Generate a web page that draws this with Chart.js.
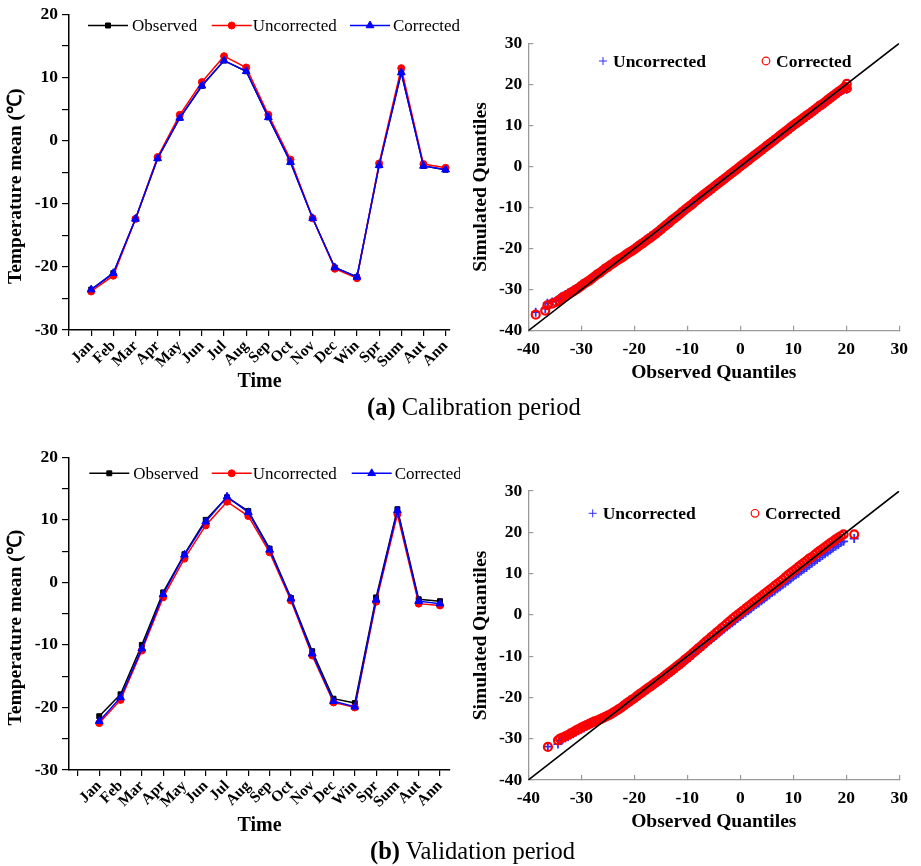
<!DOCTYPE html>
<html>
<head>
<meta charset="utf-8">
<script src="https://cdn.jsdelivr.net/npm/chart.js@4.4.1/dist/chart.umd.min.js"></script>
<style>
  html, body { margin: 0; padding: 0; background: #fff; }
  #page { position: relative; width: 921px; height: 866px; overflow: hidden; background: #fff; }
  #page canvas { position: absolute; }
  .caption { position: absolute; font-family: 'Liberation Serif', 'Times New Roman', serif; font-size: 24.5px; line-height: 28px; color: #000; white-space: nowrap; }
</style>
</head>
<body>
<div id="page">
  <canvas id="tempCal" width="460" height="400" style="left:0;top:0;width:460px;height:400px"></canvas>
  <canvas id="qqCal" width="461" height="400" style="left:460px;top:0;width:461px;height:400px"></canvas>
  <canvas id="tempVal" width="460" height="400" style="left:0;top:440px;width:460px;height:400px"></canvas>
  <canvas id="qqVal" width="461" height="400" style="left:460px;top:440px;width:461px;height:400px"></canvas>
  <div class="caption" style="left:367px;top:393px"><b>(a)</b> Calibration period</div>
  <div class="caption" style="left:370px;top:837px"><b>(b)</b> Validation period</div>
</div>
<script>
// Monthly, seasonal and annual labels
const periods = ['Jan','Feb','Mar','Apr','May','Jun','Jul','Aug','Sep','Oct','Nov','Dec','Win','Spr','Sum','Aut','Ann'];

// Mean temperature (°C), calibration period
const calObserved    = [-23.6,-21.0,-12.4,-2.8,3.6,8.7,12.7,11.0,3.7,-3.4,-12.3,-20.1,-21.6,-3.9,10.8,-4.0,-4.6];
const calUncorrected = [-23.9,-21.4,-12.4,-2.6,4.1,9.3,13.4,11.6,4.1,-3.0,-12.3,-20.3,-21.8,-3.6,11.5,-3.7,-4.3];
const calCorrected   = [-23.6,-21.0,-12.4,-2.8,3.6,8.7,12.7,11.0,3.7,-3.4,-12.3,-20.1,-21.6,-3.9,10.8,-4.0,-4.6];

// Mean temperature (°C), validation period
const valObserved    = [-21.4,-17.9,-10.0,-1.6,4.5,10.0,13.6,11.4,5.4,-2.5,-11.0,-18.6,-19.3,-2.4,11.7,-2.7,-3.0];
const valUncorrected = [-22.5,-18.8,-10.9,-2.4,3.8,9.1,12.9,10.6,4.8,-2.9,-11.7,-19.2,-20.0,-3.1,10.9,-3.4,-3.7];
const valCorrected   = [-22.2,-18.4,-10.6,-1.9,4.4,9.7,13.7,11.2,5.2,-2.6,-11.4,-19.0,-19.9,-2.8,11.5,-3.0,-3.4];

// Q-Q plot, calibration period: observed quantiles and simulated quantiles
const calObsQ = [
  -38.6,-36.8,-36.4,-35.5,-34.7,-34.2,-33.8,
  -33.5,-33,-32.5,-32,-31.5,-31,-30.5,-30,-29.5,-29,
  -28.5,-28,-27.5,-27,-26.5,-26,-25.5,-25,-24.5,-24,
  -23.5,-23,-22.5,-22,-21.5,-21,-20.5,-20,-19.5,-19,
  -18.5,-18,-17.5,-17,-16.5,-16,-15.5,-15,-14.5,-14,
  -13.5,-13,-12.5,-12,-11.5,-11,-10.5,-10,-9.5,-9,
  -8.5,-8,-7.5,-7,-6.5,-6,-5.5,-5,-4.5,-4,
  -3.5,-3,-2.5,-2,-1.5,-1,-0.5,0,0.5,1,
  1.5,2,2.5,3,3.5,4,4.5,5,5.5,6,
  6.5,7,7.5,8,8.5,9,9.5,10,10.5,11,
  11.5,12,12.5,13,13.5,14,14.5,15,15.5,16,
  16.5,17,17.5,18,18.5,19,19.5,
  19.8,20.1,20.1
];
const calUncorrQ = [
  -35.5,-34.6,-33.3,-33.0,-32.6,-32.2,-31.8,
  -31.6,-31.2,-30.8,-30.5,-30.1,-29.7,-29.3,-28.9,-28.5,-28.0,
  -27.6,-27.1,-26.7,-26.2,-25.8,-25.3,-24.9,-24.4,-24.0,-23.5,
  -23.1,-22.6,-22.2,-21.7,-21.3,-20.8,-20.4,-19.9,-19.4,-18.9,
  -18.5,-18.0,-17.5,-17.0,-16.6,-16.1,-15.6,-15.1,-14.6,-14.1,
  -13.6,-13.1,-12.6,-12.1,-11.6,-11.1,-10.6,-10.1,-9.6,-9.1,
  -8.6,-8.1,-7.6,-7.1,-6.6,-6.1,-5.5,-5.0,-4.5,-4.0,
  -3.5,-3.0,-2.5,-2.0,-1.5,-1.0,-0.5,0.0,0.5,1.0,
  1.5,2.0,2.5,3.0,3.4,3.9,4.4,4.9,5.4,5.9,
  6.3,6.8,7.3,7.8,8.3,8.8,9.2,9.7,10.2,10.6,
  11.1,11.6,12.0,12.5,13.0,13.5,14.0,14.5,14.9,15.4,
  15.9,16.4,16.9,17.4,17.9,18.3,18.7,
  19.0,18.8,19.0
];
const calCorrQ = [
  -36.1,-35.1,-33.8,-33.4,-33.0,-32.6,-32.2,
  -31.9,-31.6,-31.2,-30.8,-30.4,-30.0,-29.6,-29.1,-28.6,-28.2,
  -27.8,-27.3,-26.8,-26.3,-25.9,-25.4,-24.9,-24.5,-24.0,-23.6,
  -23.1,-22.7,-22.3,-21.9,-21.4,-21.0,-20.6,-20.2,-19.7,-19.2,
  -18.8,-18.3,-17.8,-17.4,-16.9,-16.4,-15.9,-15.4,-14.8,-14.3,
  -13.8,-13.2,-12.7,-12.2,-11.7,-11.1,-10.6,-10.1,-9.6,-9.1,
  -8.5,-8.0,-7.5,-7.0,-6.5,-6.0,-5.5,-5.0,-4.5,-4.0,
  -3.5,-3.0,-2.5,-2.0,-1.5,-1.0,-0.5,0.0,0.5,1.0,
  1.5,2.0,2.5,3.0,3.5,4.0,4.5,5.0,5.5,6.0,
  6.5,7.0,7.5,8.0,8.5,9.0,9.5,10.0,10.5,10.9,
  11.4,11.9,12.4,12.8,13.3,13.8,14.3,14.8,15.2,15.7,
  16.2,16.7,17.2,17.7,18.2,18.6,19.1,
  19.4,19.0,20.1
];

// Q-Q plot, validation period
const valObsQ = [
  -36.3,-34.4,
  -34,-33.5,-33,-32.5,-32,-31.5,-31,-30.5,-30,-29.5,
  -29,-28.5,-28,-27.5,-27,-26.5,-26,-25.5,-25,-24.5,
  -24,-23.5,-23,-22.5,-22,-21.5,-21,-20.5,-20,-19.5,
  -19,-18.5,-18,-17.5,-17,-16.5,-16,-15.5,-15,-14.5,
  -14,-13.5,-13,-12.5,-12,-11.5,-11,-10.5,-10,-9.5,
  -9,-8.5,-8,-7.5,-7,-6.5,-6,-5.5,-5,-4.5,
  -4,-3.5,-3,-2.5,-2,-1.5,-1,-0.5,0,0.5,
  1,1.5,2,2.5,3,3.5,4,4.5,5,5.5,
  6,6.5,7,7.5,8,8.5,9,9.5,10,10.5,
  11,11.5,12,12.5,13,13.5,14,14.5,15,15.5,
  16,16.5,17,17.5,18,18.5,19,19.5,
  21.5
];
const valUncorrQ = [
  -31.9,-31.3,
  -30.4,-30.1,-29.8,-29.5,-29.1,-28.8,-28.4,-28.1,-27.7,-27.4,
  -27.0,-26.7,-26.4,-26.1,-25.8,-25.5,-25.2,-24.9,-24.5,-24.2,
  -23.9,-23.5,-23.1,-22.7,-22.2,-21.8,-21.3,-20.9,-20.4,-19.9,
  -19.5,-19.0,-18.5,-18.1,-17.6,-17.2,-16.7,-16.3,-15.8,-15.3,
  -14.8,-14.3,-13.9,-13.4,-12.9,-12.4,-11.9,-11.3,-10.8,-10.3,
  -9.7,-9.1,-8.6,-8.1,-7.6,-7.0,-6.5,-6.0,-5.5,-5.0,
  -4.4,-3.9,-3.4,-2.9,-2.4,-1.9,-1.4,-0.9,-0.4,0.1,
  0.5,1.0,1.5,2.0,2.5,2.9,3.4,3.9,4.4,4.9,
  5.4,5.8,6.3,6.8,7.3,7.7,8.2,8.7,9.2,9.7,
  10.1,10.6,11.1,11.5,12.0,12.5,13.0,13.4,13.9,14.4,
  14.8,15.2,15.7,16.2,16.6,17.0,17.5,17.8,
  18.5
];
const valCorrQ = [
  -32.0,-30.4,
  -30.0,-29.7,-29.4,-29.1,-28.7,-28.4,-28.0,-27.7,-27.3,-27.0,
  -26.7,-26.4,-26.1,-25.8,-25.6,-25.3,-25.0,-24.7,-24.4,-24.1,
  -23.7,-23.3,-22.9,-22.5,-22.0,-21.5,-21.1,-20.6,-20.2,-19.7,
  -19.2,-18.8,-18.3,-17.8,-17.4,-16.9,-16.4,-16.0,-15.5,-15.0,
  -14.5,-14.0,-13.5,-13.0,-12.5,-12.0,-11.5,-10.9,-10.4,-9.9,
  -9.3,-8.8,-8.2,-7.7,-7.1,-6.5,-6.0,-5.4,-4.9,-4.3,
  -3.8,-3.2,-2.7,-2.1,-1.6,-1.0,-0.5,0.0,0.5,1.0,
  1.5,2.0,2.5,3.0,3.5,4.0,4.5,5.0,5.5,6.0,
  6.5,7.0,7.5,8.0,8.5,9.1,9.6,10.1,10.6,11.1,
  11.6,12.1,12.6,13.1,13.6,14.0,14.5,15.0,15.5,15.9,
  16.4,16.9,17.4,17.8,18.3,18.7,19.1,19.5,
  19.5
];

// End points of the 1:1 reference line
const refLine = [-40, 30];

const SERIF = "'Liberation Serif', 'Times New Roman', serif";
Chart.defaults.font.family = SERIF;
Chart.defaults.color = '#000';

// Rotated y-axis title placed along the plot's left side
const sideTitle = {
  id: 'sideTitle',
  afterDraw(chart, args, opts) {
    if (!opts.text) return;
    const { ctx, chartArea } = chart;
    ctx.save();
    ctx.translate(opts.x, (chartArea.top + chartArea.bottom) / 2 + (opts.dy || 0));
    ctx.rotate(-Math.PI / 2);
    ctx.font = opts.font;
    ctx.fillStyle = '#000';
    ctx.textAlign = 'center';
    ctx.textBaseline = 'middle';
    ctx.fillText(opts.text, 0, 0);
    ctx.restore();
  }
};

// Key drawn inside the plot: optional line sample, marker and label per dataset
const insideKey = {
  id: 'insideKey',
  afterDatasetsDraw(chart, args, opts) {
    if (!opts.items) return;
    const { ctx, chartArea } = chart;
    ctx.save();
    opts.items.forEach(item => {
      const ds = chart.data.datasets[item.ds];
      const x0 = chartArea.left + item.x;
      const y0 = chartArea.top + opts.y;
      const len = item.line || 0;
      if (len > 0) {
        ctx.strokeStyle = ds.borderColor;
        ctx.lineWidth = 1.5;
        ctx.beginPath();
        ctx.moveTo(x0, y0);
        ctx.lineTo(x0 + len, y0);
        ctx.stroke();
      }
      const mx = len > 0 ? x0 + len / 2 : x0;
      const bw = item.borderWidth || ds.pointBorderWidth || 1;
      ctx.fillStyle = ds.backgroundColor;
      ctx.strokeStyle = ds.borderColor;
      ctx.lineWidth = bw;
      Chart.helpers.drawPoint(ctx, {
        pointStyle: ds.pointStyle,
        radius: item.radius || ds.pointRadius,
        borderWidth: bw,
        rotation: 0
      }, mx, y0);
      ctx.fillStyle = '#000';
      ctx.font = opts.font;
      ctx.textAlign = 'left';
      ctx.textBaseline = 'middle';
      ctx.fillText(ds.label, chartArea.left + item.textX, y0 + 1);
    });
    ctx.restore();
  }
};

function tempChart(id, obs, unc, cor, xMin, xMax, areaTop, titlePad, keyY, keyX) {
  const pts = vals => vals.map((y, i) => ({ x: i, y }));
  return new Chart(document.getElementById(id), {
    type: 'line',
    data: {
      datasets: [
        { label: 'Observed', data: pts(obs), borderColor: '#000000', backgroundColor: '#000000',
          pointStyle: 'rect', pointRadius: 3.5, pointBorderWidth: 1, order: 2 },
        { label: 'Uncorrected', data: pts(unc), borderColor: '#ff0000', backgroundColor: '#ff0000',
          pointStyle: 'circle', pointRadius: 3.5, pointBorderWidth: 1, order: 1 },
        { label: 'Corrected', data: pts(cor), borderColor: '#0000ff', backgroundColor: '#0000ff',
          pointStyle: 'triangle', pointRadius: 4.5, pointBorderWidth: 1, order: 0 }
      ]
    },
    options: {
      responsive: false,
      animation: false,
      devicePixelRatio: 1,
      layout: { padding: { top: areaTop, right: 10, left: 0, bottom: 0 } },
      elements: { line: { borderWidth: 1.5, tension: 0 } },
      scales: {
        x: {
          type: 'linear', min: xMin, max: xMax,
          afterFit: s => { s.height = 70; },
          ticks: {
            stepSize: 1, autoSkip: false, includeBounds: false,
            minRotation: 45, maxRotation: 45, padding: 1,
            font: { size: 15.5, weight: 'bold' },
            callback: v => periods[v] ?? ''
          },
          grid: { drawOnChartArea: false, color: '#000', tickLength: 6, lineWidth: 1.2 },
          border: { color: '#000', width: 1.5 },
          title: { display: true, text: 'Time', font: { size: 20, weight: 'bold' },
                   padding: { top: 0, bottom: titlePad } }
        },
        y: {
          min: -30, max: 20,
          afterFit: s => { s.width = 69; },
          ticks: { stepSize: 5, padding: 4, font: { size: 17.5, weight: 'bold' },
                   callback: v => (v % 10 === 0 ? String(v) : '') },
          grid: { drawOnChartArea: false, color: '#000', tickLength: 7, lineWidth: 1.2 },
          border: { color: '#000', width: 1.5 }
        }
      },
      plugins: {
        legend: { display: false },
        tooltip: { enabled: false },
        sideTitle: { text: 'Temperature mean (\u2103)', x: 16, dy: 14, font: 'bold 19.5px ' + SERIF },
        insideKey: {
          y: keyY, font: '17px ' + SERIF,
          items: [
            { ds: 0, x: keyX[0], line: 40, textX: keyX[0] + 44 },
            { ds: 1, x: keyX[1], line: 40, textX: keyX[1] + 41 },
            { ds: 2, x: keyX[2], line: 40, textX: keyX[2] + 43 }
          ]
        }
      }
    },
    plugins: [sideTitle, insideKey]
  });
}

function qqChart(id, obsQ, uncQ, corQ, areaTop, areaBottom, titlePad, keyY, keyX) {
  const pair = ys => obsQ.map((x, i) => ({ x, y: ys[i] }));
  const axisGrey = '#9a9a9a';
  return new Chart(document.getElementById(id), {
    type: 'scatter',
    data: {
      datasets: [
        { label: '1:1', data: refLine.map(v => ({ x: v, y: v })), showLine: true,
          borderColor: '#000', borderWidth: 1.6, pointRadius: 0, order: 0 },
        { label: 'Corrected', data: pair(corQ), pointStyle: 'circle', pointRadius: 4,
          borderColor: '#ff0000', backgroundColor: 'rgba(255,255,255,0)', pointBorderWidth: 2.2, order: 1 },
        { label: 'Uncorrected', data: pair(uncQ), pointStyle: 'cross', pointRadius: 4.5,
          borderColor: '#2f2fff', backgroundColor: '#2f2fff', pointBorderWidth: 1.8, order: 2 }
      ]
    },
    options: {
      responsive: false,
      animation: false,
      devicePixelRatio: 1,
      layout: { padding: { top: areaTop, right: 16, left: 0, bottom: 0 } },
      scales: {
        x: {
          type: 'linear', min: -40, max: 30,
          afterFit: s => { s.height = 400 - areaBottom; },
          ticks: { stepSize: 10, padding: 13, maxRotation: 0, font: { size: 17.5, weight: 'bold' } },
          grid: { drawOnChartArea: false, color: axisGrey, tickLength: -5, lineWidth: 1.2 },
          border: { color: axisGrey, width: 1.3 },
          title: { display: true, text: 'Observed Quantiles', font: { size: 19.5, weight: 'bold' },
                   padding: { top: 0, bottom: titlePad } }
        },
        y: {
          type: 'linear', min: -40, max: 30,
          afterFit: s => { s.width = 68.3; },
          ticks: { stepSize: 10, padding: 11, font: { size: 17.5, weight: 'bold' } },
          grid: { drawOnChartArea: false, color: axisGrey, tickLength: -5, lineWidth: 1.2 },
          border: { color: axisGrey, width: 1.3 },
          title: { display: true, text: 'Simulated Quantiles', font: { size: 19.5, weight: 'bold' },
                   padding: { top: 9, bottom: 0 } }
        }
      },
      plugins: {
        legend: { display: false },
        tooltip: { enabled: false },
        insideKey: {
          y: keyY, font: 'bold 17.5px ' + SERIF,
          items: [
            { ds: 2, x: keyX[0], line: 0, textX: keyX[0] + 10, radius: 4, borderWidth: 1 },
            { ds: 1, x: keyX[1], line: 0, textX: keyX[1] + 10, radius: 3.8, borderWidth: 1.2 }
          ]
        }
      }
    },
    plugins: [insideKey]
  });
}

tempChart('tempCal', calObserved, calUncorrected, calCorrected, -1, 16.2, 13, 6, 11, [19, 142.7, 281]);
tempChart('tempVal', valObserved, valUncorrected, valCorrected, -1.42, 16.47, 17.3, 2, 16, [20.3, 142.7, 282.7]);
qqChart('qqCal', calObsQ, calUncorrQ, calCorrQ, 43.3, 330.7, 15.3, 17.7, [74.7, 237.7]);
qqChart('qqVal', valObsQ, valUncorrQ, valCorrQ, 51, 340, 6.6, 22.3, [64.4, 226.7]);
</script>
</body>
</html>
